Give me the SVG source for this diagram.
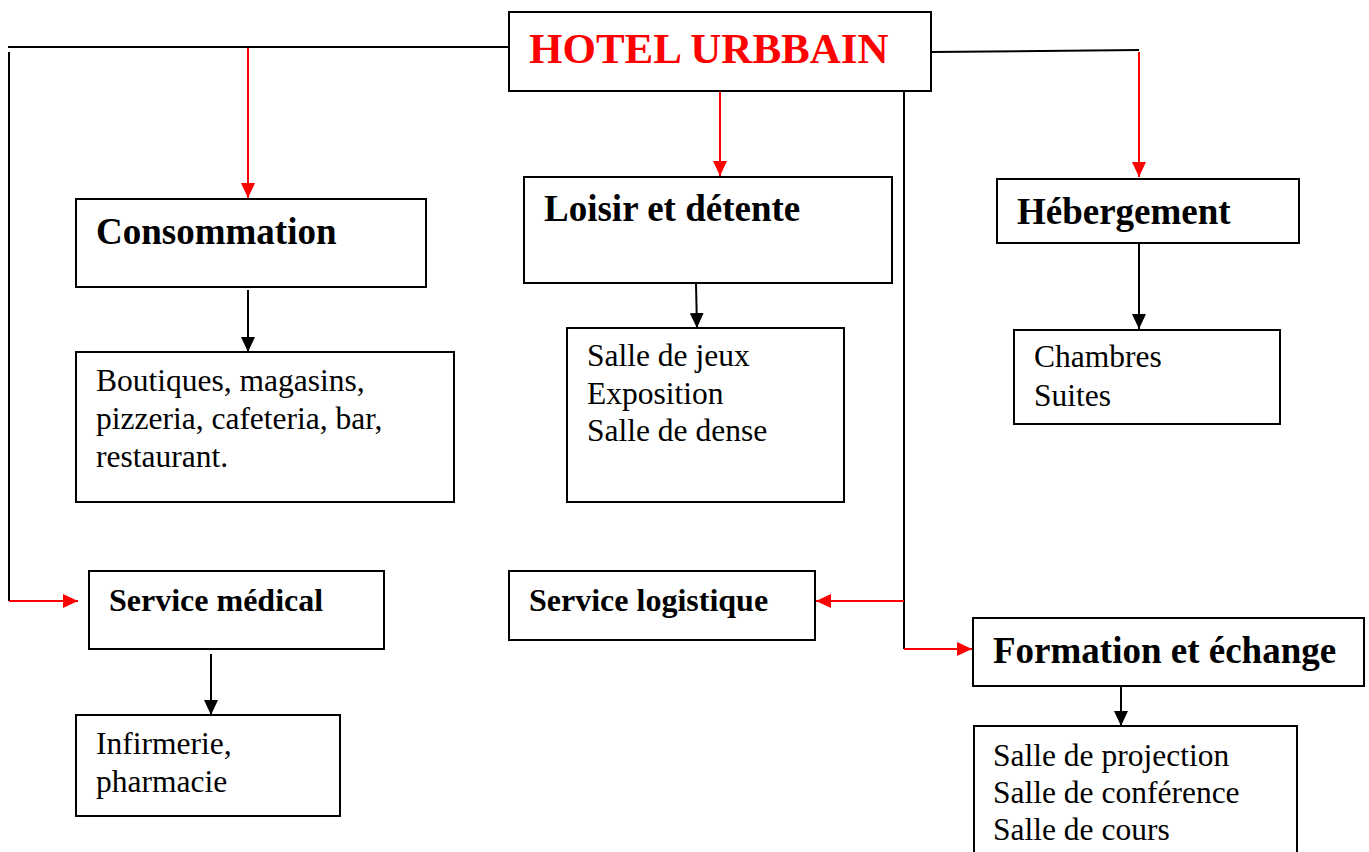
<svg xmlns="http://www.w3.org/2000/svg" width="1369" height="852" viewBox="0 0 1369 852">
<defs>
<marker id="ar" markerWidth="15" markerHeight="14" refX="15" refY="7" orient="auto" markerUnits="userSpaceOnUse" viewBox="0 0 15 14"><path d="M0,0 L15,7 L0,14 z" fill="#ff0000"/></marker>
<marker id="ab" markerWidth="15" markerHeight="14" refX="15" refY="7" orient="auto" markerUnits="userSpaceOnUse" viewBox="0 0 15 14"><path d="M0,0 L15,7 L0,14 z" fill="#000"/></marker>
<style>
.box{fill:#fff;stroke:#000;stroke-width:2}
.h{font-family:"Liberation Serif","Times New Roman",serif;font-weight:bold;font-size:37px;fill:#000}
.s{font-family:"Liberation Serif","Times New Roman",serif;font-weight:bold;font-size:32px;fill:#000}
.t{font-family:"Liberation Serif","Times New Roman",serif;font-size:31.5px;fill:#000}
.k{fill:none;stroke:#000;stroke-width:2}
.r{fill:none;stroke:#ff0000;stroke-width:2}
</style>
</defs>
<rect width="1369" height="852" fill="#fff"/>
<g id="connectors">
<polyline class="k" points="509,47 8,47"/>
<polyline class="k" points="9,52 9,601"/>
<line class="r" x1="9" y1="601" x2="78" y2="601" marker-end="url(#ar)"/>
<line class="r" x1="248" y1="48" x2="248" y2="198" marker-end="url(#ar)"/>
<line class="r" x1="720" y1="91" x2="720" y2="176" marker-end="url(#ar)"/>
<polyline class="k" points="931,52 1139,50"/>
<line class="r" x1="1139" y1="52" x2="1139" y2="177" marker-end="url(#ar)"/>
<line class="k" x1="904" y1="91" x2="904" y2="649"/>
<line class="r" x1="904" y1="601" x2="816" y2="601" marker-end="url(#ar)"/>
<line class="r" x1="904" y1="649" x2="972" y2="649" marker-end="url(#ar)"/>
<line class="k" x1="248" y1="290" x2="248" y2="352" marker-end="url(#ab)"/>
<line class="k" x1="696" y1="284" x2="697" y2="328" marker-end="url(#ab)"/>
<line class="k" x1="1139" y1="243" x2="1139" y2="329" marker-end="url(#ab)"/>
<line class="k" x1="211" y1="654" x2="211" y2="715" marker-end="url(#ab)"/>
<line class="k" x1="1121" y1="686" x2="1121" y2="726" marker-end="url(#ab)"/>
</g>
<g id="hotel"><rect class="box" x="509" y="12" width="422" height="79"/><text x="529" y="63" font-family="Liberation Serif, Times New Roman, serif" font-weight="bold" font-size="43" fill="#ff0000">HOTEL URBBAIN</text></g>
<g id="consommation"><rect class="box" x="76" y="199" width="350" height="88"/><text class="h" x="96" y="244">Consommation</text></g>
<g id="boutiques"><rect class="box" x="76" y="352" width="378" height="150"/><text class="t" x="96" y="391">Boutiques, magasins,</text><text class="t" x="96" y="429">pizzeria, cafeteria, bar,</text><text class="t" x="96" y="467">restaurant.</text></g>
<g id="loisir"><rect class="box" x="524" y="177" width="368" height="106"/><text class="h" x="544" y="221">Loisir et détente</text></g>
<g id="salles-loisir"><rect class="box" x="567" y="328" width="277" height="174"/><text class="t" x="587" y="366">Salle de jeux</text><text class="t" x="587" y="404">Exposition</text><text class="t" x="587" y="441">Salle de dense</text></g>
<g id="hebergement"><rect class="box" x="997" y="179" width="302" height="64"/><text class="h" x="1017" y="224">Hébergement</text></g>
<g id="chambres"><rect class="box" x="1014" y="330" width="266" height="94"/><text class="t" x="1034" y="367">Chambres</text><text class="t" x="1034" y="406">Suites</text></g>
<g id="service-medical"><rect class="box" x="89" y="571" width="295" height="78"/><text class="s" x="109" y="611">Service médical</text></g>
<g id="infirmerie"><rect class="box" x="76" y="715" width="264" height="101"/><text class="t" x="96" y="754">Infirmerie,</text><text class="t" x="96" y="792">pharmacie</text></g>
<g id="service-logistique"><rect class="box" x="509" y="571" width="306" height="69"/><text class="s" x="529" y="611">Service logistique</text></g>
<g id="formation"><rect class="box" x="973" y="618" width="391" height="68"/><text class="h" x="993" y="663">Formation et échange</text></g>
<g id="salles-formation"><rect class="box" x="974" y="726" width="323" height="140"/><text class="t" x="993" y="766">Salle de projection</text><text class="t" x="993" y="803">Salle de conférence</text><text class="t" x="993" y="840">Salle de cours</text></g>
</svg>
